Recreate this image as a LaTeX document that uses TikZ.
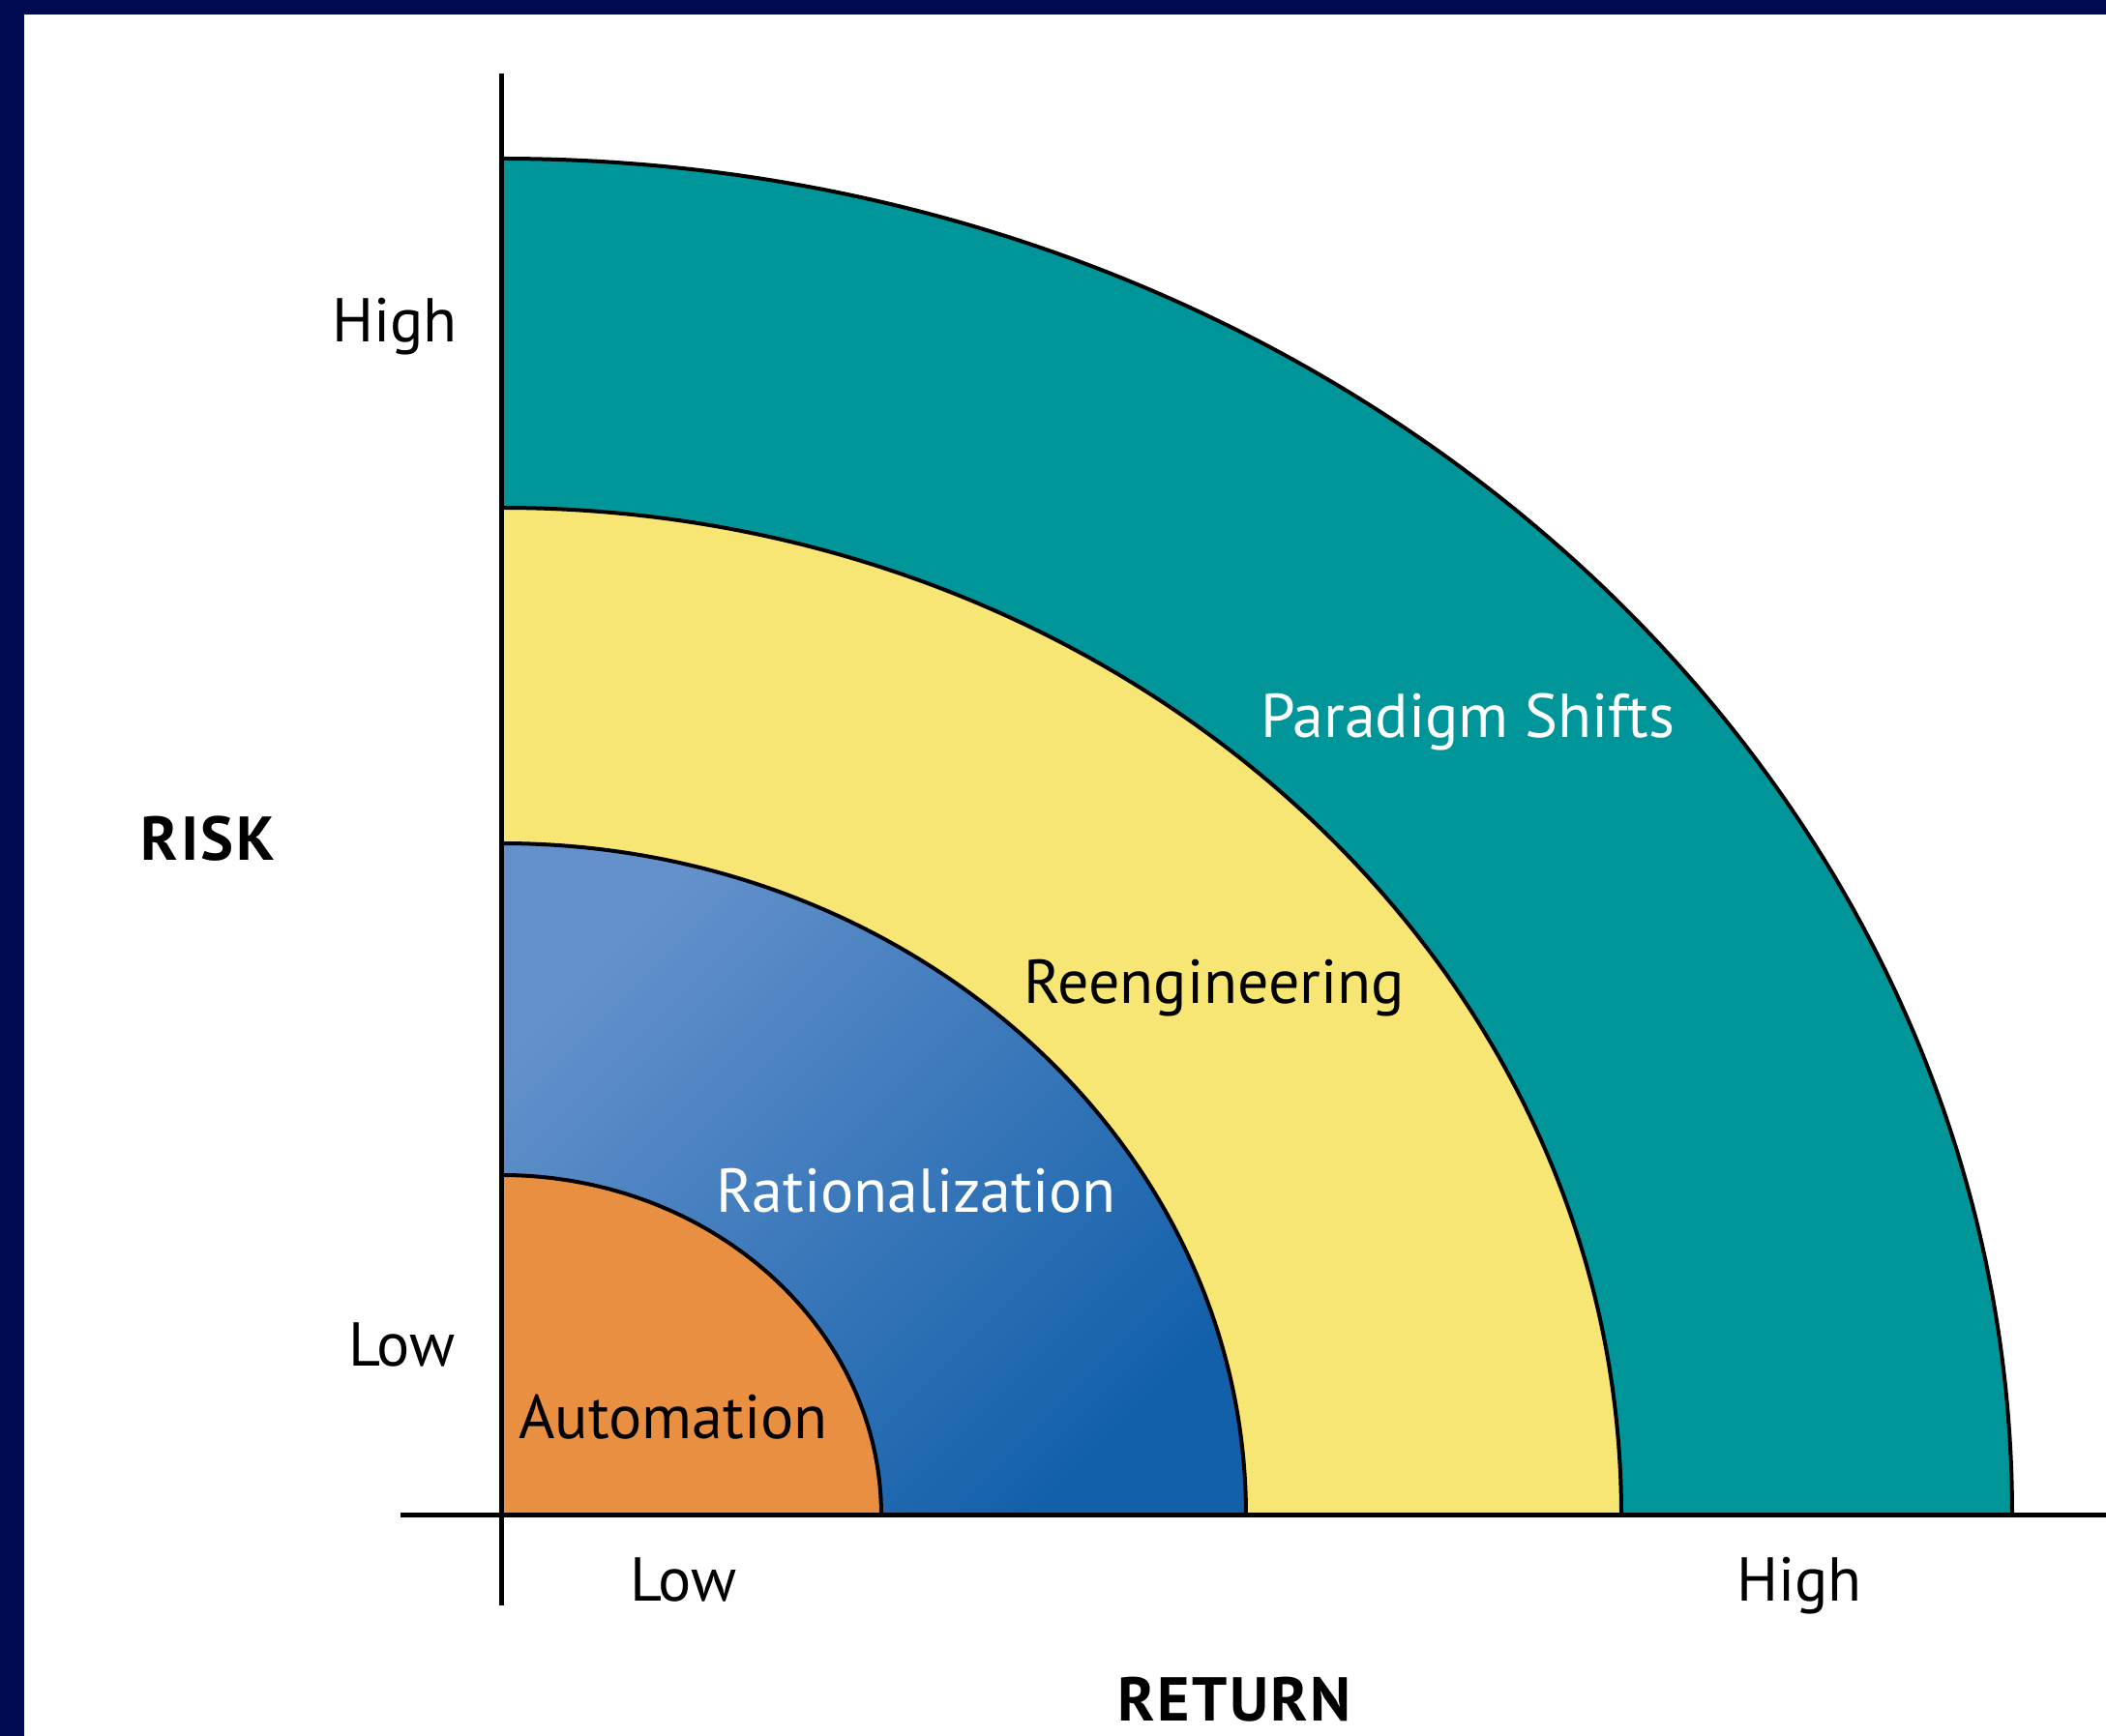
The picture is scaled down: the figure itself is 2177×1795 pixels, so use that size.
\documentclass[tikz,border=0pt]{standalone}
\usepackage{fontspec}
\setmainfont{PT Sans}
\newfontfamily\axisfont[LetterSpace=4]{PT Sans}

\definecolor{framenavy}{RGB}{0,10,80}
\definecolor{shiftteal}{RGB}{0,150,153}
\definecolor{reengyellow}{RGB}{247,230,115}
\definecolor{ratlight}{RGB}{100,145,203}
\definecolor{ratdark}{RGB}{18,96,170}
\definecolor{autoorange}{RGB}{232,143,66}

\begin{document}
\begin{tikzpicture}[x=0.25pt,y=0.25pt,yscale=-1,xscale=1,
    band/.style={draw=black,line width=1pt},
    axisline/.style={draw=black,line width=1.25pt},
    ticklabel/.style={inner sep=0pt,font=\fontsize{16}{19}\selectfont},
    bandlabel/.style={inner sep=0pt,font=\fontsize{16}{19}\selectfont},
    axistitle/.style={inner sep=0pt,font=\axisfont\bfseries\fontsize{16}{19}\selectfont}]
    \useasboundingbox (0,0) rectangle (2177,1795);
    
    %Shape: Rectangle [frame]
    \fill [framenavy] (0,0) rectangle (2177,1795);
    \fill [white] (25,15) rectangle (2177,1795);
    
    %Shape: Quarter Ellipse [paradigm shifts]
    \draw [band,fill=shiftteal] (518,1567) -- (2080,1567) .. controls (2080,792.1) and (1380.7,164) .. (518,164) -- cycle ;
    %Shape: Quarter Ellipse [reengineering]
    \draw [band,fill=reengyellow] (518,1567) -- (1676,1567) .. controls (1676,991.5) and (1157.6,525) .. (518,525) -- cycle ;
    %Shape: Quarter Ellipse [rationalization]
    \draw [band,top color=ratlight,bottom color=ratdark,shading angle=45] (518,1567) -- (1288,1567) .. controls (1288,1183.2) and (943.3,872) .. (518,872) -- cycle ;
    %Shape: Quarter Ellipse [automation]
    \draw [band,fill=autoorange] (518,1567) -- (911,1567) .. controls (911,1372.6) and (735.1,1215) .. (518,1215) -- cycle ;
    
    \coordinate (origin) at (518,1567);
    \coordinate (risktop) at (518,76);
    \coordinate (riskfoot) at (518,1660);
    \coordinate (returnleft) at (414,1567);
    \coordinate (returnright) at (2177,1567);
    %Straight Lines [risk axis]
    \draw [axisline] (risktop) -- (riskfoot) ;
    %Straight Lines [return axis]
    \draw [axisline] (returnleft) -- (returnright) ;
    
    % Text Node
    \draw (408,354) node (riskhigh) [anchor=base][ticklabel] {High};
    % Text Node
    \draw (215,890) node (risk) [anchor=base][axistitle] {RISK};
    % Text Node
    \draw (415,1413) node (risklow) [anchor=base][ticklabel] {Low};
    % Text Node
    \draw (706,1655) node (returnlow) [anchor=base][ticklabel] {Low};
    % Text Node
    \draw (1860,1655) node (returnhigh) [anchor=base][ticklabel] {High};
    % Text Node
    \draw (1276,1780) node (return) [anchor=base][axistitle] {RETURN};
    % Text Node
    \draw (696,1488) node (automation) [anchor=base][bandlabel] {Automation};
    % Text Node
    \draw (947,1254) node (rationalization) [anchor=base][bandlabel,text=white] {Rationalization};
    % Text Node
    \draw (1255,1038) node (reengineering) [anchor=base][bandlabel] {Reengineering};
    % Text Node
    \draw (1517,763) node (paradigm) [anchor=base][bandlabel,text=white] {Paradigm Shifts};
    
\end{tikzpicture}
\end{document}
